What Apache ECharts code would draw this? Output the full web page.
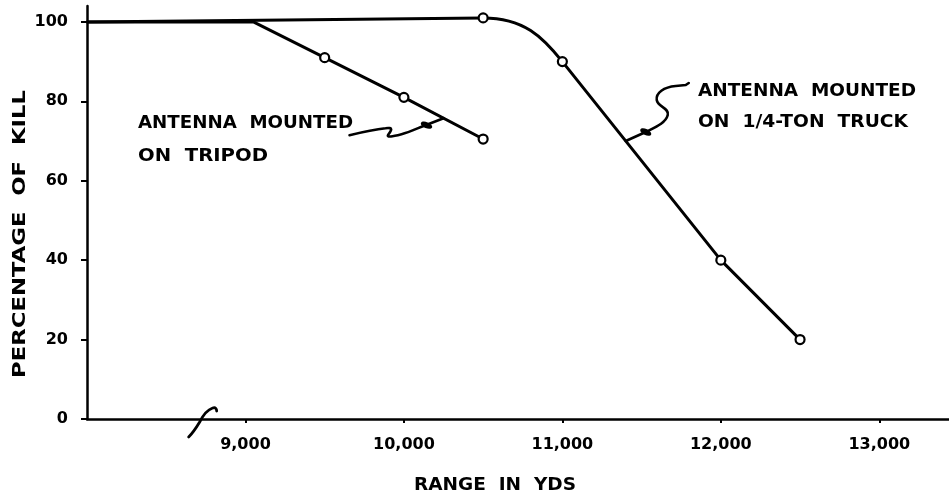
<!DOCTYPE html>
<html><head><meta charset="utf-8">
<script src="https://cdn.jsdelivr.net/npm/echarts@6/dist/echarts.min.js"></script>
<style>html,body{margin:0;padding:0;background:#fff}#c{width:949px;height:501px}</style>
</head><body><div id="c"></div>
<script>
// ---- data ----
const xTicks = [9000, 10000, 11000, 12000, 13000];
const yTicks = [0, 20, 40, 60, 80, 100];
const flatLevel = 100;            // both curves start flat at 100 %
const tripodKneeX = 9050;         // where the tripod curve leaves 100 %
const tripodX = [9500, 10000, 10500];
const tripodY = [91, 81, 70.5];
const truckX = [10500, 11000, 12000, 12500];
const truckY = [101, 90, 40, 20];
const xName = 'RANGE  IN  YDS';
const yName = 'PERCENTAGE  OF  KILL';
const tripodText = ['ANTENNA  MOUNTED', 'ON  TRIPOD'];
const truckText = ['ANTENNA  MOUNTED', 'ON  1/4-TON  TRUCK'];

const X_MIN = 8000, X_MAX = 13440, Y_MIN = 0, Y_MAX = 104;
const FAMILY = '"DejaVu Sans", "Liberation Sans", sans-serif';
const INK = '#000';

const chart = echarts.init(document.getElementById('c'), null, {renderer: 'canvas'});

const tripodLine = [[X_MIN, flatLevel], [tripodKneeX, flatLevel]].concat(tripodX.map((x, i) => [x, tripodY[i]]));
const tripodPts = tripodX.map((x, i) => [x, tripodY[i]]);
const truckPts = truckX.map((x, i) => [x, truckY[i]]);

const measureCtx = document.createElement('canvas').getContext('2d');
function textWidth(s, size) {
  measureCtx.font = 'bold ' + size + 'px ' + FAMILY;
  return measureCtx.measureText(s).width;
}

function truckRender(params, api) {
  if (params.dataIndex !== 0) return null;
  const p = truckPts.map(d => api.coord(d));
  const s = api.coord([X_MIN, flatLevel]);
  const dx = p[2][0] - p[1][0], dy = p[2][1] - p[1][1];
  const L = Math.hypot(dx, dy);
  const ux = dx / L, uy = dy / L;
  const chord = Math.hypot(p[1][0] - p[0][0], p[1][1] - p[0][1]);
  const c1 = [p[0][0] + chord * 0.45, p[0][1]];
  const c2 = [p[1][0] - ux * chord * 0.35, p[1][1] - uy * chord * 0.35];
  let d = `M${s[0]},${s[1]} L${p[0][0]},${p[0][1]} C${c1[0]},${c1[1]} ${c2[0]},${c2[1]} ${p[1][0]},${p[1][1]}`;
  for (let i = 2; i < p.length; i++) d += ` L${p[i][0]},${p[i][1]}`;
  return {
    type: 'path',
    shape: {pathData: d},
    style: {fill: null, stroke: INK, lineWidth: 3, lineJoin: 'round', lineCap: 'round'}
  };
}

function lerpY(xs, ys, x) {
  for (let i = 0; i < xs.length - 1; i++) if (x >= xs[i] && x <= xs[i + 1]) return ys[i] + (ys[i + 1] - ys[i]) * (x - xs[i]) / (xs[i + 1] - xs[i]);
  return ys[ys.length - 1];
}

// text stretched to the lettering width seen in the reference
function txt(s, x, y, size, width, align, rot) {
  const sx = width ? width / textWidth(s, size) : 1;
  return {
    type: 'text', x: x, y: y, rotation: rot || 0, scaleX: sx,
    style: {text: s, fill: INK, fontFamily: FAMILY, fontWeight: 'bold', fontSize: size,
            align: align || 'left', verticalAlign: 'middle'}
  };
}
function leader(tip, d, blob, ang) {
  return [
    {type: 'path', x: tip[0], y: tip[1], shape: {pathData: d},
     style: {fill: null, stroke: INK, lineWidth: 2.6, lineCap: 'round', lineJoin: 'round'}},
    {type: 'ellipse', x: tip[0] + blob[0], y: tip[1] + blob[1], rotation: ang,
     shape: {cx: 0, cy: 0, rx: 6, ry: 3}, style: {fill: INK}}
  ];
}

function annoRender(params, api) {
  if (params.dataIndex !== 0) return null;
  const tTip = api.coord([10250, lerpY(tripodX, tripodY, 10250)]);
  const kTip = api.coord([11400, lerpY(truckX, truckY, 11400)]);
  const brk = api.coord([8730, 0]);
  const ch = [];
  ch.push(txt(tripodText[0], 138, 123, 18, 215));
  ch.push(txt(tripodText[1], 138, 156, 18, 130));
  ch.push(txt(truckText[0], 698, 91, 18, 218));
  ch.push(txt(truckText[1], 698, 122, 18, 210));
  ch.push(...leader(tTip,
    'M0,0 L-18,7 C-26,10 -34,14 -42,16 C-50,18 -58,20 -55,16 C-52,12 -50,9 -58,10 C-68,11 -82,14 -94,17', [-17, 7], -0.38));
  ch.push(...leader(kTip,
    'M0,0 L20,-9 C30,-14 40,-18 42,-26 C44,-33 32,-34 31,-41 C30,-48 38,-54 50,-55 L60,-56 L63,-58', [20, -9], -0.45));
  ch.push({type: 'path', x: brk[0], y: brk[1],
    shape: {pathData: 'M-14,18 C-10,14 -6,8 -3,3 C0,-3 4,-9 10,-11 C13,-12 14,-10 14,-8'},
    style: {fill: null, stroke: INK, lineWidth: 2.8, lineCap: 'round'}});
  ch.push(txt(xName, 495, 486, 17, 162, 'center'));
  ch.push(txt(yName, 21, 234, 17, 288, 'center', Math.PI / 2));
  return {type: 'group', children: ch};
}

chart.setOption({
  animation: false,
  backgroundColor: '#fff',
  grid: {left: 87, right: 0, top: 6, bottom: 82, containLabel: false},
  xAxis: {
    type: 'value', min: X_MIN, max: X_MAX,
    splitLine: {show: false},
    axisLine: {show: true, onZero: false, lineStyle: {color: INK, width: 2.5}},
    axisTick: {show: true, inside: false, length: 4, customValues: xTicks, lineStyle: {color: INK, width: 2}},
    axisLabel: {
      show: true, customValues: xTicks, margin: 18, color: INK,
      fontFamily: FAMILY, fontWeight: 'bold', fontSize: 16,
      formatter: v => v.toLocaleString('en-US')
    }
  },
  yAxis: {
    type: 'value', min: Y_MIN, max: Y_MAX,
    splitLine: {show: false},
    axisLine: {show: true, onZero: false, lineStyle: {color: INK, width: 2.5}},
    axisTick: {show: true, inside: false, length: 6, customValues: yTicks, lineStyle: {color: INK, width: 2}},
    axisLabel: {
      show: true, customValues: yTicks, margin: 19, color: INK,
      fontFamily: FAMILY, fontWeight: 'bold', fontSize: 16
    }
  },
  series: [
    {name: 'tripod', type: 'line', data: tripodLine, symbol: 'none',
     lineStyle: {color: INK, width: 3}, z: 3},
    {name: 'truck', type: 'custom', data: truckPts, renderItem: truckRender, z: 3},
    {name: 'tripodPts', type: 'scatter', data: tripodPts, symbol: 'circle', symbolSize: 9,
     itemStyle: {color: '#fff', borderColor: INK, borderWidth: 2.2, opacity: 1}, z: 5},
    {name: 'truckPts', type: 'scatter', data: truckPts, symbol: 'circle', symbolSize: 9,
     itemStyle: {color: '#fff', borderColor: INK, borderWidth: 2.2, opacity: 1}, z: 5},
    {name: 'annotations', type: 'custom', data: [[X_MIN, Y_MIN]], renderItem: annoRender, z: 10, silent: true}
  ]
});
</script></body></html>
